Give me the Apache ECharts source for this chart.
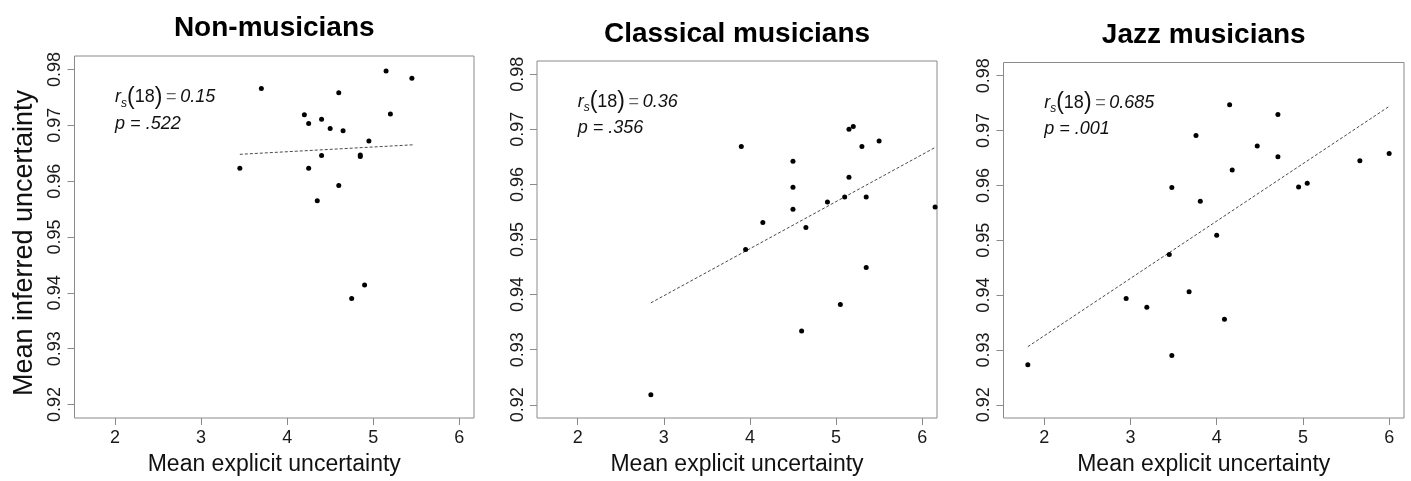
<!DOCTYPE html>
<html>
<head>
<meta charset="utf-8">
<script src="https://cdn.jsdelivr.net/npm/echarts@6/dist/echarts.min.js"></script>
<style>html,body{margin:0;padding:0;background:#fff}#c{width:1411px;height:481px}</style>
</head>
<body>
<div id="c"></div>
<script>
// ---------- data ----------
const panelTitles = ['Non-musicians', 'Classical musicians', 'Jazz musicians'];
const xAxisName = 'Mean explicit uncertainty';
const yAxisName = 'Mean inferred uncertainty';
const xTicks = [2, 3, 4, 5, 6];
const yTicks = [0.92, 0.93, 0.94, 0.95, 0.96, 0.97, 0.98];
const xRange = [1.528, 6.172];
const yRange = [0.9176, 0.9824];

const nonX = [5.15, 5.45, 3.70, 4.60, 4.20, 5.20, 4.40, 4.25, 4.50, 4.65, 4.95, 4.40, 4.85, 4.85, 3.45, 4.25, 4.60, 4.35, 4.90, 4.75];
const nonY = [0.9797, 0.9784, 0.9766, 0.9758, 0.9719, 0.9720, 0.9711, 0.9703, 0.9694, 0.9690, 0.9672, 0.9646, 0.9647, 0.9644, 0.9623, 0.9623, 0.9592, 0.9565, 0.9414, 0.9390];
const nonFitX = [3.45, 5.46];
const nonFitY = [0.9648, 0.9665];

const clsX = [2.85, 3.90, 3.95, 4.15, 4.50, 4.50, 4.50, 4.60, 4.65, 4.90, 5.05, 5.10, 5.15, 5.20, 5.15, 5.30, 5.35, 5.35, 5.50, 6.15];
const clsY = [0.9218, 0.9669, 0.9482, 0.9531, 0.9642, 0.9595, 0.9555, 0.9334, 0.9522, 0.9568, 0.9382, 0.9577, 0.9700, 0.9705, 0.9613, 0.9669, 0.9577, 0.9449, 0.9679, 0.9559];
const clsFitX = [2.85, 6.15];
const clsFitY = [0.9385, 0.9667];

const jazzX = [1.81, 2.95, 3.19, 3.45, 3.48, 3.48, 3.68, 3.76, 3.81, 4.00, 4.09, 4.15, 4.18, 4.47, 4.71, 4.71, 4.95, 5.05, 5.66, 6.00];
const jazzY = [0.9273, 0.9394, 0.9378, 0.9474, 0.9596, 0.9290, 0.9406, 0.9691, 0.9571, 0.9509, 0.9356, 0.9747, 0.9628, 0.9672, 0.9729, 0.9652, 0.9597, 0.9604, 0.9645, 0.9658];
const jazzFitX = [1.81, 6.00];
const jazzFitY = [0.9306, 0.9744];

const rsDf = '18';
const rsValues = ['0.15', '0.36', '0.685'];
const pValues = ['.522', '.356', '.001'];
// ---------------------------

const FONT = '"Liberation Sans", Arial, Helvetica, sans-serif';
const panels = [
  {x: nonX, y: nonY, fx: nonFitX, fy: nonFitY},
  {x: clsX, y: clsY, fx: clsFitX, fy: clsFitY},
  {x: jazzX, y: jazzY, fx: jazzFitX, fy: jazzFitY}
];
const gridPos = [
  {left: 74.5, top: 56, width: 399.5, height: 364},
  {left: 537, top: 61, width: 400, height: 360},
  {left: 1003.5, top: 62.5, width: 400.5, height: 360}
];
const titleY = [28.5, 34, 35.5];

const zip = (a, b) => a.map((v, i) => [v, b[i]]);

const option = {
  animation: false,
  backgroundColor: '#fff',
  grid: gridPos.map(g => Object.assign({show: true, borderColor: '#8a8a8a', borderWidth: 1, backgroundColor: 'transparent', containLabel: false}, g)),
  xAxis: panels.map((p, i) => ({
    type: 'value', gridIndex: i, min: xRange[0], max: xRange[1],
    name: xAxisName, nameLocation: 'middle', nameGap: 35,
    nameTextStyle: {fontFamily: FONT, fontSize: 23, color: '#111'},
    axisLine: {show: false},
    splitLine: {show: false},
    axisTick: {show: true, length: 7, customValues: xTicks, lineStyle: {color: '#8a8a8a'}},
    axisLabel: {customValues: xTicks, margin: 11, fontFamily: FONT, fontSize: 18, color: '#1a1a1a'}
  })),
  yAxis: panels.map((p, i) => ({
    type: 'value', gridIndex: i, min: yRange[0], max: yRange[1],
    name: i === 0 ? yAxisName : '', nameLocation: 'middle', nameGap: 36, nameRotate: 90,
    nameTextStyle: {fontFamily: FONT, fontSize: 27, color: '#111', padding: [0, 12, 0, 0]},
    axisLine: {show: false},
    splitLine: {show: false},
    axisTick: {show: true, length: 7, customValues: yTicks, lineStyle: {color: '#8a8a8a'}},
    axisLabel: {customValues: yTicks, rotate: 90, margin: 10, fontFamily: FONT, fontSize: 18, color: '#1a1a1a',
      formatter: v => Number(v).toFixed(2)}
  })),
  series: []
};

panels.forEach((p, i) => {
  option.series.push({
    type: 'line', xAxisIndex: i, yAxisIndex: i, data: zip(p.fx, p.fy),
    symbol: 'none', silent: true, z: 1,
    lineStyle: {color: '#4a4a4a', width: 1, type: [3, 2]}
  });
  option.series.push({
    type: 'scatter', xAxisIndex: i, yAxisIndex: i, data: zip(p.x, p.y),
    symbol: 'circle', symbolSize: 5, z: 2,
    itemStyle: {color: '#000', opacity: 1}
  });
});

const chart = echarts.init(document.getElementById('c'));
chart.setOption(option);

const graphics = [];
gridPos.forEach((g, i) => {
  graphics.push({
    type: 'text', x: g.left + g.width / 2, y: titleY[i],
    style: {text: panelTitles[i], font: 'bold 28px ' + FONT, fill: '#000',
      align: 'center', verticalAlign: 'middle', textAlign: 'center', textVerticalAlign: 'middle'}
  });
  const p1 = chart.convertToPixel({gridIndex: i}, [2, 0.975]);
  const p2 = chart.convertToPixel({gridIndex: i}, [2, 0.9702]);
  graphics.push({
    type: 'text', x: p1[0], y: p1[1],
    style: {
      text: '{r|r}{s|s}{pa|(}{n|' + rsDf + '}{pa|)}{eq|\u2009=\u2009}{v|' + rsValues[i] + '}',
      align: 'left', verticalAlign: 'middle', textAlign: 'left', textVerticalAlign: 'middle',
      fontFamily: FONT, fontSize: 18, fill: '#111',
      rich: {
        r: {fontFamily: FONT, fontSize: 18, fontStyle: 'italic', fill: '#111'},
        s: {fontFamily: FONT, fontSize: 12, fontStyle: 'italic', fill: '#111', verticalAlign: 'bottom', lineHeight: 12},
        pa: {fontFamily: FONT, fontSize: 23, fill: '#111', lineHeight: 24},
        n: {fontFamily: FONT, fontSize: 18, fill: '#111'},
        eq: {fontFamily: FONT, fontSize: 18, fill: '#666'},
        v: {fontFamily: FONT, fontSize: 18, fontStyle: 'italic', fill: '#111'}
      }
    }
  });
  graphics.push({
    type: 'text', x: p2[0], y: p2[1],
    style: {text: 'p = ' + pValues[i], font: 'italic 18px ' + FONT, fill: '#111',
      align: 'left', verticalAlign: 'middle', textAlign: 'left', textVerticalAlign: 'middle'}
  });
});
chart.setOption({graphic: graphics});
</script>
</body>
</html>
